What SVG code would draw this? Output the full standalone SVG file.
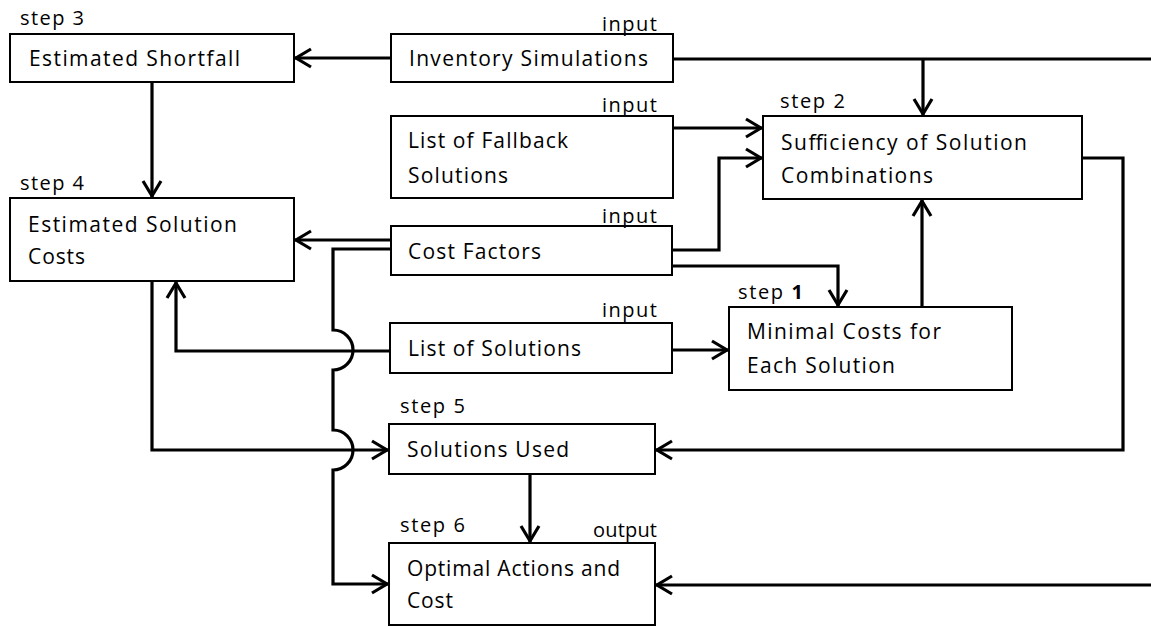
<svg xmlns="http://www.w3.org/2000/svg" width="1151" height="627" viewBox="0 0 1151 627">
<style>
.box{fill:#fff;stroke:#000;stroke-width:2}
.t{font-family:"Open Sans","Liberation Sans",sans-serif;font-size:21px;fill:#000}
.l{font-family:"Open Sans","Liberation Sans",sans-serif;font-size:20px;fill:#000}
.c{fill:none;stroke:#000;stroke-width:3.2}
.a{marker-end:url(#arr)}
</style>
<defs>
<marker id="arr" markerUnits="userSpaceOnUse" viewBox="-20 -12 24 24" markerWidth="24" markerHeight="24" refX="2" refY="0" orient="auto">
<path d="M-15,-9 L0,0 L-15,9" fill="none" stroke="#000" stroke-width="3.2"/>
</marker>
</defs>
<rect width="1151" height="627" fill="#fff"/>
<g id="connectors">
<path class="c a" d="M391,58 H294"/>
<path class="c" d="M673,59 H1151"/>
<path class="c a" d="M923,59 V116"/>
<path class="c a" d="M152,82 V198"/>
<path class="c a" d="M673,128 H763"/>
<path class="c a" d="M672,250 H719 V158 H763"/>
<path class="c a" d="M672,266 H838 V307"/>
<path class="c a" d="M391,240 H294"/>
<path class="c a" d="M391,249 H333 V330 A20,20 0 0 1 333,370 V430 A20,20 0 0 1 333,470 V584 H389"/>
<path class="c a" d="M390,351 H176 V281"/>
<path class="c a" d="M672,350 H729"/>
<path class="c a" d="M922,307 V199"/>
<path class="c a" d="M1082,158 H1123 V450 H655"/>
<path class="c a" d="M152,281 V450 H389"/>
<path class="c a" d="M530,474 V543"/>
<path class="c a" d="M1151,585 H655"/>
</g>
<g id="n-shortfall">
<rect class="box" x="10" y="34" width="284" height="48"/>
<text class="l" x="20" y="25" textLength="64" lengthAdjust="spacing">step 3</text>
<text class="t" x="29" y="66" textLength="211" lengthAdjust="spacing">Estimated Shortfall</text>
</g>
<g id="n-inventory">
<rect class="box" x="391" y="34" width="282" height="48"/>
<text class="l" x="602" y="31" textLength="55" lengthAdjust="spacing">input</text>
<text class="t" x="409" y="66" textLength="239" lengthAdjust="spacing">Inventory Simulations</text>
</g>
<g id="n-fallback">
<rect class="box" x="391" y="116" width="282" height="82"/>
<text class="l" x="602" y="112" textLength="55" lengthAdjust="spacing">input</text>
<text class="t" x="408" y="148" textLength="160" lengthAdjust="spacing">List of Fallback</text>
<text class="t" x="408" y="183" textLength="100" lengthAdjust="spacing">Solutions</text>
</g>
<g id="n-sufficiency">
<rect class="box" x="763" y="116" width="319" height="83"/>
<text class="l" x="780" y="108" textLength="65" lengthAdjust="spacing">step 2</text>
<text class="t" x="781" y="150" textLength="246" lengthAdjust="spacing">Sufficiency of Solution</text>
<text class="t" x="781" y="183" textLength="152" lengthAdjust="spacing">Combinations</text>
</g>
<g id="n-solcosts">
<rect class="box" x="10" y="198" width="284" height="83"/>
<text class="l" x="20" y="190" textLength="64" lengthAdjust="spacing">step 4</text>
<text class="t" x="28" y="232" textLength="209" lengthAdjust="spacing">Estimated Solution</text>
<text class="t" x="28" y="264" textLength="57" lengthAdjust="spacing">Costs</text>
</g>
<g id="n-costfactors">
<rect class="box" x="391" y="226" width="281" height="49"/>
<text class="l" x="602" y="223" textLength="55" lengthAdjust="spacing">input</text>
<text class="t" x="408" y="259" textLength="133" lengthAdjust="spacing">Cost Factors</text>
</g>
<g id="n-listsol">
<rect class="box" x="390" y="323" width="282" height="50"/>
<text class="l" x="602" y="317" textLength="55" lengthAdjust="spacing">input</text>
<text class="t" x="408" y="356" textLength="173" lengthAdjust="spacing">List of Solutions</text>
</g>
<g id="n-mincosts">
<rect class="box" x="729" y="307" width="283" height="83"/>
<text class="l" x="738" y="299" textLength="65" lengthAdjust="spacing">step <tspan font-weight="bold">1</tspan></text>
<text class="t" x="747" y="339" textLength="194" lengthAdjust="spacing">Minimal Costs for</text>
<text class="t" x="747" y="373" textLength="148" lengthAdjust="spacing">Each Solution</text>
</g>
<g id="n-used">
<rect class="box" x="389" y="424" width="266" height="50"/>
<text class="l" x="400" y="413" textLength="65" lengthAdjust="spacing">step 5</text>
<text class="t" x="407" y="457" textLength="162" lengthAdjust="spacing">Solutions Used</text>
</g>
<g id="n-optimal">
<rect class="box" x="389" y="543" width="266" height="82"/>
<text class="l" x="400" y="532" textLength="65" lengthAdjust="spacing">step 6</text>
<text class="l" x="593" y="537" textLength="64" lengthAdjust="spacing">output</text>
<text class="t" x="407" y="576" textLength="213" lengthAdjust="spacing">Optimal Actions and</text>
<text class="t" x="407" y="608" textLength="46" lengthAdjust="spacing">Cost</text>
</g>
</svg>
